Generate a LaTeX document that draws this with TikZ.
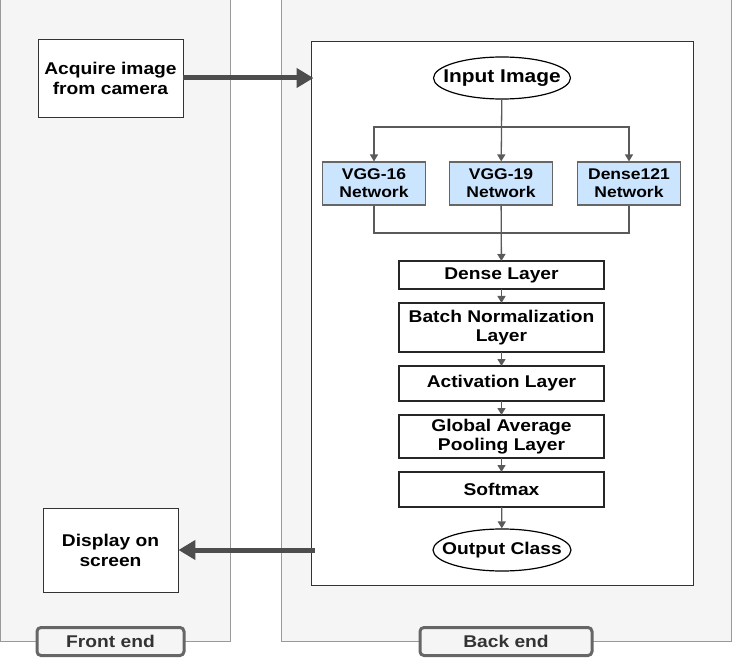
\documentclass[tikz,border=0pt]{standalone}
\usepackage{fontspec}
\setmainfont[FakeStretch=1.13]{Liberation Sans}
\usetikzlibrary{shapes.geometric, positioning, arrows.meta}
\definecolor{panelfill}{HTML}{F5F5F5}
\definecolor{panelline}{HTML}{999999}
\definecolor{netfill}{HTML}{CCE5FF}
\definecolor{bigarrow}{HTML}{4D4D4D}
\definecolor{smallarrow}{HTML}{5A5A5A}
\definecolor{labelline}{HTML}{666666}
\definecolor{labeltext}{HTML}{333333}
\tikzset{
  panel/.style={draw=panelline, fill=panelfill, line width=0.8pt},
  backbox/.style={rectangle, draw=black!80, fill=white, line width=1pt, inner sep=0pt},
  endbox/.style={rectangle, draw=black!80, fill=white, line width=0.9pt, inner sep=0pt, align=center, font=\fontsize{17}{20}\selectfont\bfseries},
  stage/.style={rectangle, draw=black!85, fill=white, line width=1.2pt, minimum width=205pt, inner sep=0pt, outer sep=0pt, align=center, font=\fontsize{17}{19.5}\selectfont\bfseries},
  network/.style={rectangle, draw=black!60, fill=netfill, line width=1.2pt, minimum width=103pt, minimum height=43pt, inner sep=0pt, align=center, font=\fontsize{15.5}{18}\selectfont\bfseries},
  terminal/.style={ellipse, draw=black, fill=white, line width=1.2pt, minimum width=137pt, minimum height=42pt, inner xsep=-11pt, inner ysep=2pt, font=\fontsize{17}{20}\selectfont\bfseries},
  sidelabel/.style={rectangle, rounded corners=4pt, draw=labelline, fill=panelfill, line width=3pt, minimum height=28pt, inner sep=0pt, text=labeltext, font=\fontsize{17}{20}\selectfont\bfseries},
  flow/.style={draw=smallarrow, line width=1.3pt, -{Triangle[length=7pt, width=8pt]}},
  link/.style={draw=smallarrow, line width=1.3pt},
  bigflow/.style={draw=bigarrow, line width=5pt, -{Triangle[length=17pt, width=19pt]}}
}
\begin{document}
\begin{tikzpicture}[x=1pt, y=-1pt, node distance=14pt]
    \useasboundingbox (0,0) rectangle (732,658);
    \draw[panel] (0.5,-3) rectangle (230,641);
    \draw[panel] (281,-3) rectangle (731,641);

    \node (back) [backbox, minimum width=382pt, minimum height=543pt] at (502,313.5) {};

    \node (acquire) [endbox, minimum width=145pt, minimum height=78pt] at (110.5,78) {Acquire image\\from camera};
    \node (display) [endbox, minimum width=135pt, minimum height=84pt] at (110.5,550) {Display on\\screen};

    \node (input) [terminal, font=\fontsize{18.5}{20}\selectfont\bfseries] at (502,78) {Input Image};
    \coordinate (split) at (502,127);
    \node (vgg16) [network] at (374,183.5) {VGG-16\\Network};
    \node (vgg19) [network] at (501,183.5) {VGG-19\\Network};
    \node (dense121) [network] at (629,183.5) {Dense121\\Network};
    \coordinate (merge) at (501,233);

    \node (dense) [stage, minimum height=28pt] at (501.5,275) {Dense Layer};
    \node (bnorm) [stage, minimum height=49pt, below=of dense] {Batch Normalization\\Layer};
    \node (act) [stage, minimum height=35pt, below=of bnorm] {Activation Layer};
    \node (gap) [stage, minimum height=43pt, below=of act] {Global Average\\Pooling Layer};
    \node (softmax) [stage, minimum height=35pt, below=of gap] {Softmax};
    \node (output) [terminal] at (502,550) {Output Class};

    \node (front) [sidelabel, minimum width=147pt] at (110.5,641.5) {Front end};
    \node (backend) [sidelabel, minimum width=172pt] at (506,641.5) {Back end};

    \draw [bigflow, shorten >=-3pt] (acquire.east) -- (acquire.east -| back.west);
    \draw [bigflow, shorten <=-4pt] (display.east -| back.west) -- (display.east);

    \draw [flow] (input) -- (vgg19);
    \draw [flow] (split) -| (vgg16);
    \draw [flow] (split) -| (dense121);
    \draw [link] (vgg16) |- (merge);
    \draw [link] (dense121) |- (merge);
    \draw [flow] (vgg19) -- (dense);
    \draw [flow] (dense) -- (bnorm);
    \draw [flow] (bnorm) -- (act);
    \draw [flow] (act) -- (gap);
    \draw [flow] (gap) -- (softmax);
    \draw [flow] (softmax) -- (output);
\end{tikzpicture}
\end{document}
